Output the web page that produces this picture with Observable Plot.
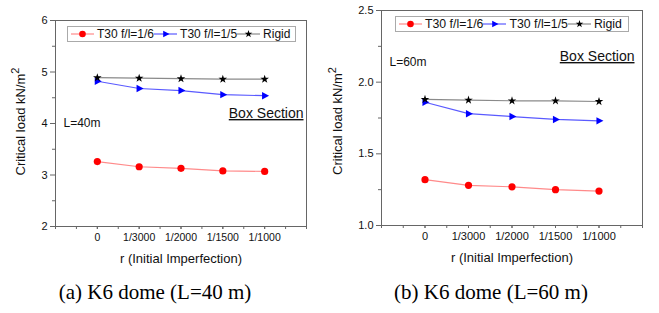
<!DOCTYPE html>
<html><head><meta charset="utf-8">
<script src="https://cdn.jsdelivr.net/npm/d3@7"></script>
<script src="https://cdn.jsdelivr.net/npm/@observablehq/plot@0.6"></script>
<style>
body{margin:0;background:#fff;}
#wrap{position:relative;width:659px;height:313px;overflow:hidden;font-family:"Liberation Sans",Arial,sans-serif;}
.panel{position:absolute;top:0;}
.cap{position:absolute;top:280px;font-family:"Liberation Serif","Times New Roman",serif;font-size:21px;color:#000;white-space:nowrap;transform:translateX(-50%);line-height:24px}
.legend{position:absolute;border:1px solid #aaa;display:flex;align-items:center;color:#111;box-sizing:border-box;padding-left:3px;white-space:nowrap;background:#fff}
.legend svg{display:block;flex:none}
.legend span{display:block}
</style></head><body><div id="wrap"></div>
<script>
// ---- data ----
const xLabels = ["0", "1/3000", "1/2000", "1/1500", "1/1000"];
const seriesNames = ["T30 f/l=1/6", "T30 f/l=1/5", "Rigid"];
// (a) L = 40 m
const a_f16 = [3.26, 3.16, 3.13, 3.08, 3.07];
const a_f15 = [4.82, 4.68, 4.64, 4.56, 4.54];
const a_rigid = [4.89, 4.88, 4.87, 4.86, 4.86];
// (b) L = 60 m
const b_f16 = [1.32, 1.28, 1.27, 1.25, 1.24];
const b_f15 = [1.86, 1.78, 1.76, 1.74, 1.73];
const b_rigid = [1.88, 1.875, 1.87, 1.87, 1.865];
const yTicksA = [2, 3, 4, 5, 6];
const yTicksB = [1.0, 1.5, 2.0, 2.5];
const captions = ["(a) K6 dome (L=40 m)", "(b) K6 dome (L=60 m)"];
const spanLabels = ["L=40m", "L=60m"];

// ---- styles ----
const lineColors = ["#ff8a8a", "#5a5aff", "#8a8a8a"];
const markColors = ["#ff0000", "#0000ff", "#000000"];
const triRight = {
  draw(ctx, size) {
    const h = Math.sqrt(size) * 0.55;
    ctx.moveTo(h * 1.2, 0);
    ctx.lineTo(-h * 0.7, -h);
    ctx.lineTo(-h * 0.7, h);
    ctx.closePath();
  }
};
const symbols = ["circle", triRight, "star"];
const markR = [3.6, 3.8, 2.7];

function rows(vals) { return vals.map((v, i) => ({i, v})); }

function panel(cfg) {
  const data = cfg.series.map(rows);
  const halfX = d3.range(-1, 5.01, 0.5);
  const yMinor = d3.range(cfg.yDomain[0], cfg.yDomain[1] + 1e-9, cfg.yStep / 2).filter(v => !cfg.yTicks.some(t => Math.abs(t - v) < 1e-9));
  const marks = [
    Plot.frame({stroke: "#666", strokeWidth: 1}),
    Plot.axisY(cfg.yTicks, {tickSize: 5, tickPadding: 3, stroke: "#666", fill: "#111", fontSize: 11, tickFormat: cfg.yFormat, label: null}),
    Plot.axisY(yMinor, {tickSize: 3, stroke: "#666", text: null, label: null}),
    Plot.axisX(halfX, {tickSize: 3, stroke: "#666", text: null, label: null}),
    Plot.axisX([0, 1, 2, 3, 4], {tickSize: 3, tickPadding: 4, stroke: "#666", fill: "#111", fontSize: cfg.xFont, tickFormat: d => xLabels[d], label: null})
  ];
  data.forEach((d, k) => {
    marks.push(Plot.line(d, {x: "i", y: "v", stroke: lineColors[k], strokeWidth: 1.2}));
  });
  data.forEach((d, k) => {
    marks.push(Plot.dot(d, {x: "i", y: "v", fill: markColors[k], stroke: "none", r: markR[k], symbol: symbols[k]}));
  });
  marks.push(
    Plot.text([cfg.span], {text: d => d, frameAnchor: "top-left", dx: 8, dy: cfg.spanDy, textAnchor: "start", lineAnchor: "middle", fontSize: 12, fill: "#111"}),
    Plot.text(["Box Section"], {text: d => d, frameAnchor: "top-right", dx: cfg.boxDx, dy: cfg.boxDy, textAnchor: "end", lineAnchor: "middle", fontSize: 14, fill: "#111"}),
    Plot.text(["Critical load kN/m2"], {text: d => d, frameAnchor: "left", dx: cfg.ylDx, dy: cfg.ylDy, rotate: -90, textAnchor: "middle", lineAnchor: "middle", fontSize: 13, fill: "#111"}),
    Plot.text(["r (Initial Imperfection)"], {text: d => d, frameAnchor: "bottom", dy: 32, textAnchor: "middle", lineAnchor: "middle", fontSize: 13, fill: "#111"})
  );
  const svg = Plot.plot({
    width: cfg.width, height: 275,
    marginLeft: cfg.mL, marginRight: cfg.mR, marginTop: cfg.mT, marginBottom: cfg.mB,
    x: {type: "linear", domain: [-1, 5], label: null},
    y: {type: "linear", domain: cfg.yDomain, label: null},
    style: {fontFamily: "'Liberation Sans', Arial, sans-serif", color: "#111", background: "transparent", overflow: "visible"},
    marks
  });
  svg.querySelectorAll("text").forEach(t => {
    if (t.textContent === "Box Section") t.style.textDecoration = "underline";
    if (t.textContent === "Critical load kN/m2") {
      t.textContent = "Critical load kN/m";
      const ts = document.createElementNS("http://www.w3.org/2000/svg", "tspan");
      ts.setAttribute("dy", "-6");
      ts.setAttribute("font-size", "11");
      ts.textContent = "2";
      t.appendChild(ts);
    }
  });
  return svg;
}

function legend(cfg) {
  const div = document.createElement("div");
  div.className = "legend";
  Object.assign(div.style, {left: cfg.left + "px", top: cfg.top + "px", width: cfg.w + "px", height: "16px", fontSize: cfg.fs + "px"});
  seriesNames.forEach((name, k) => {
    const s = d3.create("svg").attr("width", cfg.seg).attr("height", 14);
    s.append("line").attr("x1", 0).attr("x2", cfg.seg).attr("y1", 7).attr("y2", 7).attr("stroke", lineColors[k]).attr("stroke-width", 1.2);
    const cx = cfg.seg / 2;
    if (k === 0) s.append("circle").attr("cx", cx).attr("cy", 7).attr("r", 3.3).attr("fill", markColors[k]);
    else if (k === 1) s.append("path").attr("transform", `translate(${cx},7)`).attr("d", d3.symbol(triRight, Math.PI * 3.4 * 3.4)()).attr("fill", markColors[k]);
    else s.append("path").attr("transform", `translate(${cx},7)`).attr("d", d3.symbol(d3.symbolStar, Math.PI * 2.4 * 2.4)()).attr("fill", markColors[k]);
    div.appendChild(s.node());
    const sp = document.createElement("span");
    sp.textContent = name;
    sp.style.marginLeft = "3px";
    div.appendChild(sp);
  });
  return div;
}

const wrap = document.getElementById("wrap");
const pa = panel({series: [a_f16, a_f15, a_rigid], yDomain: [2, 6], yTicks: yTicksA, yStep: 1, yFormat: d => String(d),
  width: 330, mL: 55, mR: 24, mT: 20, mB: 49, xFont: 10.5, span: spanLabels[0], spanDy: 103, boxDx: -3, boxDy: 93, ylDx: -35, ylDy: -2});
pa.classList.add("panel"); pa.style.left = "0px";
const pb = panel({series: [b_f16, b_f15, b_rigid], yDomain: [1, 2.5], yTicks: yTicksB, yStep: 0.5, yFormat: d3.format(".1f"),
  width: 329, mL: 51, mR: 17, mT: 10, mB: 50, xFont: 11, span: spanLabels[1], spanDy: 52, boxDx: -8, boxDy: 46, ylDx: -44, ylDy: 3});
pb.classList.add("panel"); pb.style.left = "330px";
wrap.appendChild(pa); wrap.appendChild(pb);
wrap.appendChild(legend({left: 67, top: 26, w: 229, fs: 12, seg: 23}));
wrap.appendChild(legend({left: 395, top: 16, w: 234, fs: 12.3, seg: 23}));
captions.forEach((c, k) => {
  const d = document.createElement("div");
  d.className = "cap";
  d.textContent = c;
  d.style.left = (k === 0 ? 155 : 491) + "px";
  wrap.appendChild(d);
});
</script></body></html>
